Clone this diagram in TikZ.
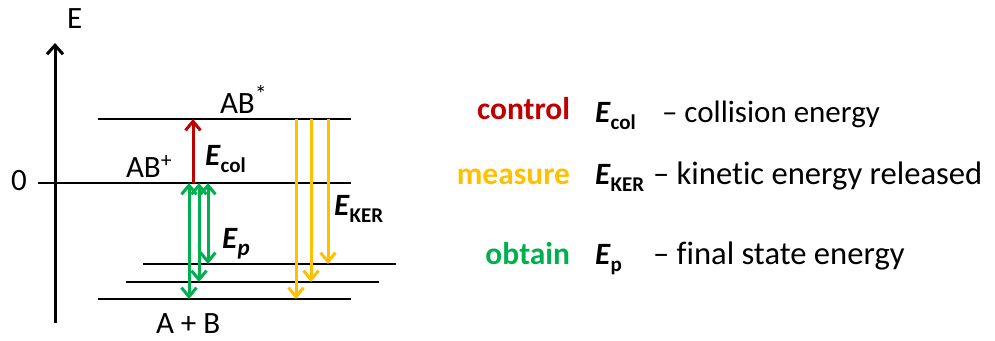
\documentclass[tikz,border=0pt]{standalone}
\usepackage{fontspec}
\setmainfont{Carlito}[Ligatures={NoCommon}]
\usetikzlibrary{arrows.meta}
\definecolor{ctrlred}{RGB}{192,0,0}
\definecolor{measyel}{RGB}{255,192,0}
\definecolor{obtgreen}{RGB}{0,176,80}
% bold italic E with a bold subscript
\newcommand\EsubU[1]{\textbf{\textit{E}}\raisebox{-7pt}{\fontsize{21}{22}\selectfont\bfseries #1}}
\newcommand\EsubI[1]{\textbf{\textit{E}}\raisebox{-7pt}{\fontsize{23}{24}\selectfont\bfseries\itshape #1}}
\tikzset{
  level/.style={line width=2.7pt, black},
  txt/.style={inner sep=0pt, outer sep=0pt, anchor=base west, font=\fontsize{31}{34}\selectfont},
  bigtxt/.style={txt, font=\fontsize{32.6}{36}\selectfont},
  keyword/.style={txt, anchor=base east, font=\fontsize{31.5}{34}\selectfont\bfseries},
  barb/.tip={Straight Barb[length=9pt,width=15pt]},
  up/.style={line width=3pt, -barb},
  dn/.style={line width=3pt, -barb},
  both/.style={line width=3pt, barb-barb},
}
\begin{document}
\begin{tikzpicture}[x=1pt,y=-1pt]
\useasboundingbox (0,0) rectangle (995,340);

% energy axis
\coordinate (axb) at (55,323);
\coordinate (axt) at (55,43);
\draw[line width=3pt, -{Straight Barb[length=9pt,width=16pt]}] (axb) -- (axt);
\node[txt] (lblE) at (67,28) {E};
\node[txt] (lbl0) at (11,190) {0};

% levels
\coordinate (Lsl) at (98,119);  \coordinate (Lsr) at (351,119);
\coordinate (Lzl) at (38,183);  \coordinate (Lzr) at (351,183);
\coordinate (L3l) at (143,264); \coordinate (L3r) at (396,264);
\coordinate (L4l) at (126,282); \coordinate (L4r) at (379,282);
\coordinate (L5l) at (98,299);  \coordinate (L5r) at (351,299);
\draw[level] (Lsl) -- (Lsr);
\draw[level] (Lzl) -- (Lzr);
\draw[level] (L3l) -- (L3r);
\draw[level] (L4l) -- (L4r);
\draw[level] (L5l) -- (L5r);

\node[txt] (ABs) at (220,113) {AB\raisebox{11pt}{\fontsize{24}{24}\selectfont *}};
\node[txt] (ABp) at (126,177) {AB\textsuperscript{+}};
\node[txt] (AB0) at (156,333) {A + B};

% collision energy (red)
\coordinate (r0) at (193,183); \coordinate (r1) at (193,119);
\draw[up, ctrlred] (r0) -- (r1);
\node[txt] (Ecol) at (205,165) {\EsubU{col}};

% final state energies (green)
\coordinate (g1t) at (189,183); \coordinate (g1b) at (189,299);
\coordinate (g2t) at (199,183); \coordinate (g2b) at (199,282);
\coordinate (g3t) at (208,183); \coordinate (g3b) at (208,264);
\draw[both, obtgreen] (g1t) -- (g1b);
\draw[both, obtgreen] (g2t) -- (g2b);
\draw[both, obtgreen] (g3t) -- (g3b);
\node[txt] (Ep) at (222,248) {\EsubI{p}};

% kinetic energy released (yellow)
\coordinate (y1t) at (296,119); \coordinate (y1b) at (296,299);
\coordinate (y2t) at (311,119); \coordinate (y2b) at (311,282);
\coordinate (y3t) at (328,119); \coordinate (y3b) at (328,264);
\draw[dn, measyel] (y1t) -- (y1b);
\draw[dn, measyel] (y2t) -- (y2b);
\draw[dn, measyel] (y3t) -- (y3b);
\node[txt] (Eker) at (334,215) {\EsubU{KER}};

% legend
\node[keyword, text=ctrlred] (kc) at (570,119) {control};
\node[txt] (kce) at (595,122) {\EsubU{col}};
\node[txt] (kct) at (662,122) {– collision energy};

\node[keyword, text=measyel] (km) at (570,184) {measure};
\node[txt] (kme) at (595,184) {\EsubU{KER}};
\node[bigtxt] (kmt) at (653,184) {– kinetic energy released};

\node[keyword, text=obtgreen] (ko) at (570,264) {obtain};
\node[txt] (koe) at (595,264) {\EsubU{p}};
\node[bigtxt] (kot) at (653,264) {– final state energy};
\end{tikzpicture}
\end{document}
